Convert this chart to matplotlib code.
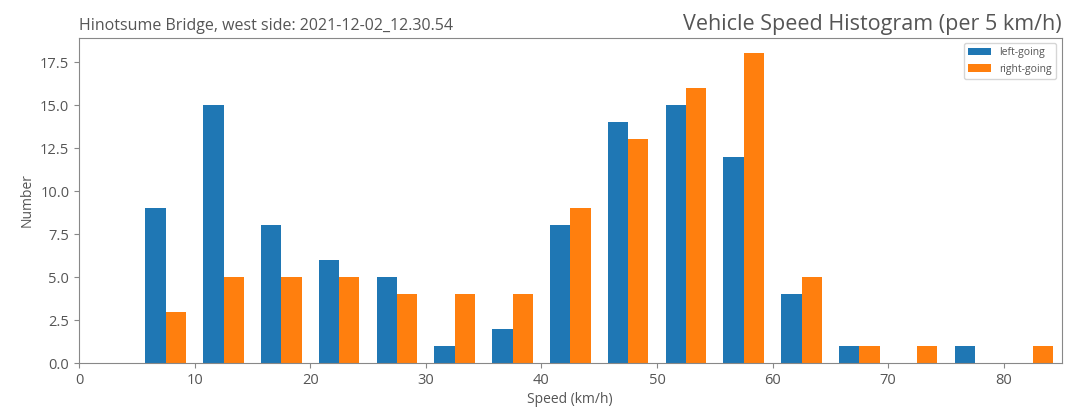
import numpy as np
import matplotlib.pyplot as plt

# 5 km/h bins
bin_edges = [5, 10, 15, 20, 25, 30, 35, 40, 45, 50, 55, 60, 65, 70, 75, 80, 85]

# left-going
left_going = [9, 15, 8, 6, 5, 1, 2, 8, 14, 15, 12, 4, 1, 0, 1, 0]

# right-going
right_going = [3, 5, 5, 5, 4, 4, 4, 9, 13, 16, 18, 5, 1, 1, 0, 1]

series_labels = ["left-going", "right-going"]

plt.rcParams['font.family'] = ['Open Sans', 'DejaVu Sans']
text_color = "#555555"

fig = plt.figure(figsize=(10.68, 4.08), dpi=100)
ax = fig.add_axes([0.074, 0.110, 0.920, 0.797])

edges = np.array(bin_edges)
lefts = edges[:-1]
ax.hist([lefts, lefts], bins=edges, weights=[left_going, right_going],
        rwidth=0.7, color=["#1f77b4", "#ff7f0e"], label=series_labels)

ax.set_xlim(0, 85)
ax.set_xlabel("Speed (km/h)", color=text_color, fontsize=10, labelpad=3)
ax.set_ylabel("Number", color=text_color, fontsize=10)
ax.set_title("Hinotsume Bridge, west side: 2021-12-02_12.30.54", loc="left",
             fontsize=11.5, color=text_color, pad=6)
ax.set_title("Vehicle Speed Histogram (per 5 km/h)", loc="right",
             fontsize=15.5, color=text_color, pad=6)

ax.tick_params(colors="#888888", labelcolor=text_color, labelsize=10.5)
for s in ax.spines.values():
    s.set_color("#888888")

leg = ax.legend(loc="upper right", fontsize=7.5, handlelength=2.2)
for t in leg.get_texts():
    t.set_color(text_color)

fig.savefig("out.png", dpi=100)
